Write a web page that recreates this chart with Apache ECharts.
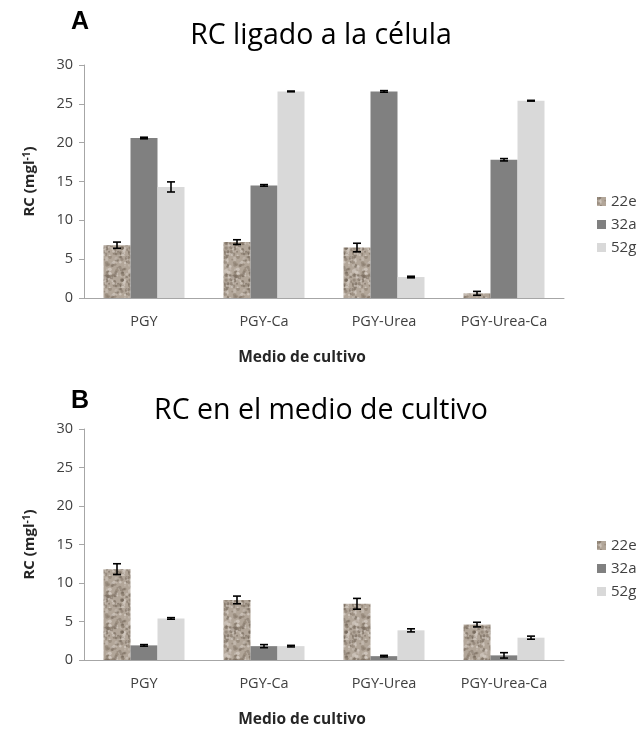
<!DOCTYPE html>
<html>
<head>
<meta charset="utf-8">
<script src="https://cdn.jsdelivr.net/npm/echarts@6/dist/echarts.min.js"></script>
<style>
  html, body { margin: 0; padding: 0; background: #fff; }
  #chart { width: 641px; height: 730px; }
</style>
</head>
<body>
<div id="chart"></div>
<script>
var categories = ['PGY', 'PGY-Ca', 'PGY-Urea', 'PGY-Urea-Ca'];
var seriesNames = ['22e', '32a', '52g'];
var yTicks = [0, 5, 10, 15, 20, 25, 30];

// A: RC ligado a la célula
var a22e = [6.8, 7.2, 6.5, 0.6];
var a32a = [20.6, 14.5, 26.6, 17.8];
var a52g = [14.3, 26.6, 2.7, 25.4];
var a22eErr = [0.4, 0.3, 0.55, 0.25];
var a32aErr = [0.1, 0.1, 0.1, 0.15];
var a52gErr = [0.65, 0.05, 0.1, 0.05];

// B: RC en el medio de cultivo
var b22e = [11.8, 7.8, 7.3, 4.6];
var b32a = [1.9, 1.8, 0.5, 0.6];
var b52g = [5.4, 1.8, 3.85, 2.9];
var b22eErr = [0.7, 0.5, 0.7, 0.3];
var b32aErr = [0.1, 0.2, 0.1, 0.35];
var b52gErr = [0.1, 0.1, 0.2, 0.2];

// textura "granito" para la serie 22e (patron fijo)
function granite() {
  var c = document.createElement('canvas');
  c.width = 32; c.height = 32;
  var ctx = c.getContext('2d');
  ctx.fillStyle = '#b2a699';
  ctx.fillRect(0, 0, 32, 32);
  var s = 11;
  function rnd() { s = (s * 9301 + 49297) % 233280; return s / 233280; }
  var tones = ['rgba(110,96,84,0.55)', 'rgba(215,207,198,0.7)', 'rgba(140,126,112,0.6)', 'rgba(200,190,180,0.6)', 'rgba(120,106,94,0.45)'];
  for (var i = 0; i < 150; i++) {
    ctx.fillStyle = tones[Math.floor(rnd() * tones.length)];
    ctx.beginPath();
    ctx.arc(rnd() * 32, rnd() * 32, 0.8 + rnd() * 1.2, 0, Math.PI * 2);
    ctx.fill();
  }
  return c;
}
var tex = granite();
var colors = [{ image: tex, repeat: 'repeat' }, '#808080', '#d9d9d9'];

var chart = echarts.init(document.getElementById('chart'));

var grids = [
  { left: 84, right: 77, top: 65, height: 233 },
  { left: 84, right: 77, top: 429, height: 231 }
];

function xAx(i) {
  return {
    type: 'category', gridIndex: i, data: categories,
    axisLine: { lineStyle: { color: '#a6a6a6' } },
    axisTick: { show: false },
    axisLabel: { color: '#404040', fontSize: 14.5, margin: 16, fontFamily: 'Open Sans' },
    name: 'Medio de cultivo', nameLocation: 'middle', nameGap: 52,
    nameTextStyle: { fontWeight: 'bold', fontSize: 15.5, color: '#262626', fontFamily: 'Open Sans', padding: [0, 44, 0, 0] }
  };
}
function yAx(i) {
  return {
    type: 'value', gridIndex: i, min: 0, max: 30, interval: 5,
    axisLine: { show: true, lineStyle: { color: '#a6a6a6' } },
    axisTick: { show: true, inside: false, length: 5, lineStyle: { color: '#a6a6a6' } },
    splitLine: { show: false },
    axisLabel: { color: '#404040', fontSize: 14.5, margin: 11, fontFamily: 'Open Sans',
      formatter: function (v) { return yTicks.indexOf(v) >= 0 ? String(v) : ''; } },
    name: '{b|RC (mgl}{s|-1}{b|)}', nameLocation: 'middle', nameGap: 46, nameRotate: 90,
    nameTextStyle: {
      rich: {
        b: { fontWeight: 'bold', fontSize: 15, color: '#262626', fontFamily: 'Open Sans' },
        s: { fontWeight: 'bold', fontSize: 10, color: '#262626', fontFamily: 'Open Sans', verticalAlign: 'top', padding: [0, 0, 6, 0] }
      }
    }
  };
}

function errSeries(i, vals, errs, idx) {
  var data = vals.map(function (v, k) { return [k, v - errs[k], v + errs[k]]; });
  return {
    type: 'custom', xAxisIndex: i, yAxisIndex: i, z: 10, silent: true,
    data: data,
    renderItem: function (params, api) {
      var k = api.value(0);
      var lo = api.coord([k, api.value(1)]);
      var hi = api.coord([k, api.value(2)]);
      var band = api.size([1, 0])[0];
      var barW = band * 0.675 / 3;
      var x = lo[0] + (idx - 1) * barW;
      var h = 4;
      var st = { stroke: '#000', lineWidth: 1.6 };
      return {
        type: 'group',
        children: [
          { type: 'line', shape: { x1: x, y1: lo[1], x2: x, y2: hi[1] }, style: st },
          { type: 'line', shape: { x1: x - h, y1: lo[1], x2: x + h, y2: lo[1] }, style: st },
          { type: 'line', shape: { x1: x - h, y1: hi[1], x2: x + h, y2: hi[1] }, style: st }
        ]
      };
    }
  };
}

function barSeries(i, name, vals, ci) {
  return {
    type: 'bar', name: name, xAxisIndex: i, yAxisIndex: i, data: vals,
    barGap: '0%', barCategoryGap: '32.5%',
    itemStyle: { color: colors[ci] }
  };
}

var legendBase = {
  orient: 'vertical', left: 592, itemWidth: 9, itemHeight: 9, itemGap: 8,
  icon: 'rect', data: seriesNames,
  textStyle: { color: '#404040', fontSize: 15, fontFamily: 'Open Sans' }
};

chart.setOption({
  animation: false,
  backgroundColor: '#fff',
  title: [
    { text: 'A', left: 66, top: 5, textStyle: { fontSize: 25, fontWeight: 'bold', color: '#000', fontFamily: 'Liberation Sans' } },
    { text: 'RC ligado a la célula', left: 316, textAlign: 'center', top: 16, textStyle: { fontSize: 28.5, fontWeight: 'normal', color: '#000', fontFamily: 'Open Sans' } },
    { text: 'B', left: 66, top: 384, textStyle: { fontSize: 25, fontWeight: 'bold', color: '#000', fontFamily: 'Liberation Sans' } },
    { text: 'RC en el medio de cultivo', left: 316, textAlign: 'center', top: 391, textStyle: { fontSize: 28.5, fontWeight: 'normal', color: '#000', fontFamily: 'Open Sans' } }
  ],
  legend: [
    Object.assign({}, legendBase, { top: 189 }),
    Object.assign({}, legendBase, { top: 533 })
  ],
  grid: grids,
  xAxis: [xAx(0), xAx(1)],
  yAxis: [yAx(0), yAx(1)],
  series: [
    barSeries(0, '22e', a22e, 0),
    barSeries(0, '32a', a32a, 1),
    barSeries(0, '52g', a52g, 2),
    barSeries(1, '22e', b22e, 0),
    barSeries(1, '32a', b32a, 1),
    barSeries(1, '52g', b52g, 2),
    errSeries(0, a22e, a22eErr, 0),
    errSeries(0, a32a, a32aErr, 1),
    errSeries(0, a52g, a52gErr, 2),
    errSeries(1, b22e, b22eErr, 0),
    errSeries(1, b32a, b32aErr, 1),
    errSeries(1, b52g, b52gErr, 2)
  ]
});
</script>
</body>
</html>
